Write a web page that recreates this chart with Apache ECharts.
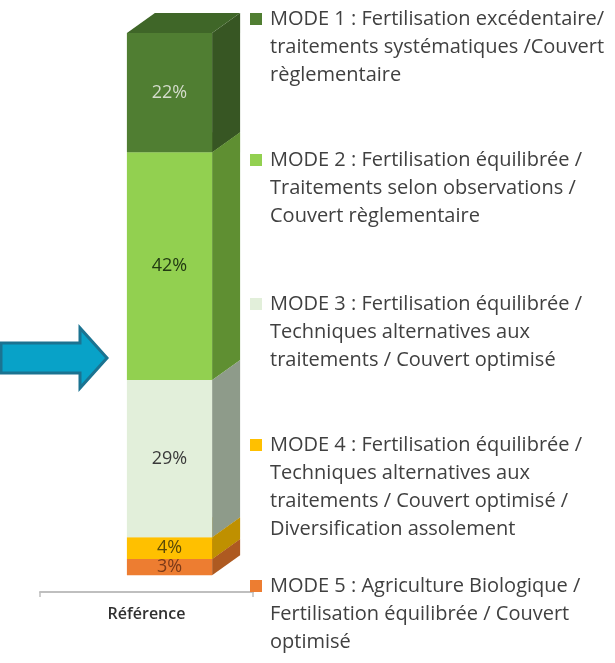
<!DOCTYPE html>
<html>
<head>
<meta charset="utf-8">
<script src="https://cdn.jsdelivr.net/npm/echarts@6/dist/echarts.min.js"></script>
<style>
html,body{margin:0;padding:0;background:#ffffff;}
#chart{width:615px;height:663px;}
</style>
</head>
<body>
<div id="chart"></div>
<script>
// ---- data ----
const categories = ['Référence'];
// modes listed top (MODE 1) to bottom (MODE 5)
const modeNames = [
  'MODE 1 : Fertilisation excédentaire/\ntraitements systématiques /Couvert\nrèglementaire',
  'MODE 2 : Fertilisation équilibrée /\nTraitements selon observations /\nCouvert règlementaire',
  'MODE 3 : Fertilisation équilibrée /\nTechniques alternatives aux\ntraitements / Couvert optimisé',
  'MODE 4 : Fertilisation équilibrée /\nTechniques alternatives aux\ntraitements / Couvert optimisé /\nDiversification assolement',
  'MODE 5 : Agriculture Biologique /\nFertilisation équilibrée / Couvert\noptimisé'
];
const modeShares = [22, 42, 29, 4, 3];

// ---- styles ----
const frontColors = ['#507e32', '#92d050', '#e2efda', '#ffc000', '#ed7d31'];
const sideColors  = ['#375623', '#5f8f32', '#8e9b8a', '#bf9000', '#ae5a21'];
const topColors   = ['#3f6628', '#76ad3f', '#c4d2bc', '#d9a400', '#c96a28'];
const labelColors = ['#d4dccc', '#223a12', '#3a3a3a', '#5a4a08', '#7b3a18'];
const legendIconCenters = [19, 160, 304, 445, 586];
const FONT = '"Open Sans", "Noto Sans", sans-serif';
const LINE_H = 28;
const BAR_RATIO = 0.4;
const X_SHIFT = 23;
const DEPTH_X = 28, DEPTH_Y = 20;

function renderItem(params, api) {
  const idx = params.seriesIndex;
  const m = seriesModeIndex[idx];
  const cat = api.value(0), lo = api.value(1), hi = api.value(2);
  const pLo = api.coord([cat, lo]);
  const pHi = api.coord([cat, hi]);
  const band = api.size([1, 0])[0];
  const w = band * BAR_RATIO;
  const x0 = pLo[0] - w / 2 + X_SHIFT, x1 = x0 + w;
  const yb = pLo[1], yt = pHi[1];
  return {
    type: 'group',
    children: [
      { type: 'polygon', shape: { points: [[x1, yb], [x1 + DEPTH_X, yb - DEPTH_Y], [x1 + DEPTH_X, yt - DEPTH_Y], [x1, yt]] },
        style: { fill: sideColors[m] } },
      { type: 'polygon', shape: { points: [[x0, yt], [x1, yt], [x1 + DEPTH_X, yt - DEPTH_Y], [x0 + DEPTH_X, yt - DEPTH_Y]] },
        style: { fill: topColors[m] } },
      { type: 'rect', shape: { x: x0, y: yt, width: w, height: yb - yt },
        style: { fill: frontColors[m] } },
      { type: 'text', x: (x0 + x1) / 2, y: (yt + yb) / 2,
        style: { text: (hi - lo) + '%', fill: labelColors[m], font: '18px ' + FONT, align: 'center', verticalAlign: 'middle' } }
    ]
  };
}

// build stacked segments bottom (MODE 5) to top (MODE 1)
const seriesModeIndex = [];
const series = [];
let acc = 0;
for (let m = modeNames.length - 1; m >= 0; m--) {
  const lo = acc, hi = acc + modeShares[m];
  acc = hi;
  seriesModeIndex.push(m);
  series.push({
    type: 'custom',
    name: modeNames[m],
    renderItem: renderItem,
    itemStyle: { color: frontColors[m] },
    encode: { x: 0, y: [1, 2] },
    data: [[0, lo, hi]]
  });
}

// one legend per mode; blank lines are prepended so the icon sits beside the first text line
const legends = modeNames.map((name, m) => {
  const n = name.split('\n').length;
  return {
    orient: 'vertical',
    left: 250,
    top: legendIconCenters[m] - (2 * n - 1) * LINE_H / 2,
    padding: 0,
    itemGap: 0,
    itemWidth: 12,
    itemHeight: 12,
    icon: 'rect',
    selectedMode: false,
    data: [name],
    formatter: (nm) => '\n'.repeat(n - 1) + nm,
    textStyle: {
      fontFamily: FONT, fontSize: 20, lineHeight: LINE_H,
      color: '#404040', padding: [0, 0, 0, 3]
    }
  };
});

const chart = echarts.init(document.getElementById('chart'), null, { renderer: 'canvas' });
chart.setOption({
  backgroundColor: '#ffffff',
  animation: false,
  grid: { left: 40, right: 362, top: 33, bottom: 71 },
  xAxis: {
    type: 'category',
    data: categories,
    axisLine: { onZero: false, lineStyle: { color: '#bfbfbf', width: 2 } },
    axisTick: { show: true, length: 5, lineStyle: { color: '#bfbfbf', width: 1.5 } },
    axisLabel: { margin: 14, fontFamily: FONT, fontSize: 16, fontWeight: 600, color: '#303030' }
  },
  yAxis: {
    type: 'value', min: -3.1, max: 100, show: false, splitLine: { show: false }
  },
  legend: legends,
  graphic: [{
    type: 'polygon',
    shape: { points: [[1, 343], [80, 343], [80, 328], [107, 358], [80, 388], [80, 373], [1, 373]] },
    style: { fill: '#08a2c8', stroke: '#1b7391', lineWidth: 3 }
  }],
  series: series
});
</script>
</body>
</html>
